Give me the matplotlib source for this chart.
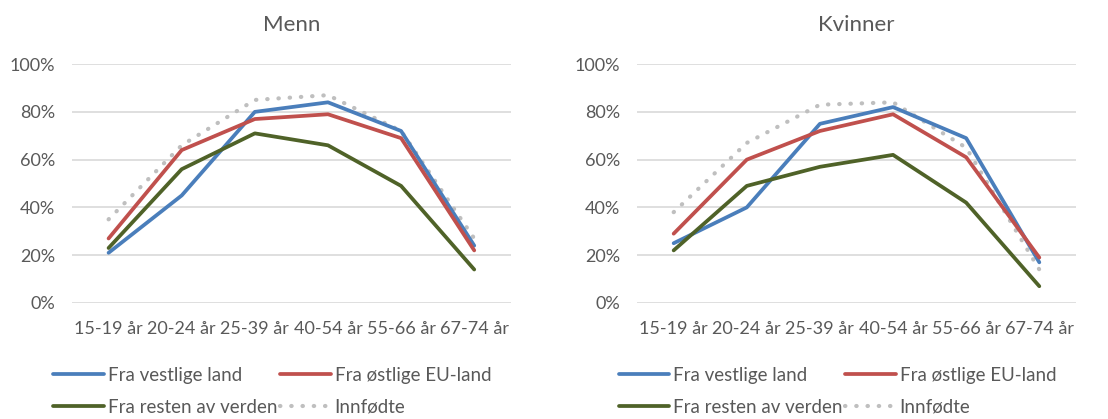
import matplotlib
matplotlib.use("Agg")
import matplotlib.pyplot as plt
from matplotlib.ticker import PercentFormatter

plt.rcParams['font.family'] = ['Lato', 'DejaVu Sans']

## categories and values (share of each group in work)
ages = ["15-19 år", "20-24 år", "25-39 år", "40-54 år", "55-66 år", "67-74 år"]

menn_vest = [21, 45, 80, 84, 72, 24]
menn_ost = [27, 64, 77, 79, 69, 22]
menn_rest = [23, 56, 71, 66, 49, 14]
menn_innf = [35, 66, 85, 87, 72, 27]

kv_vest = [25, 40, 75, 82, 69, 17]
kv_ost = [29, 60, 72, 79, 61, 19]
kv_rest = [22, 49, 57, 62, 42, 7]
kv_innf = [38, 67, 83, 84, 65, 14]

names = ["Fra vestlige land", "Fra østlige EU-land", "Fra resten av verden", "Innfødte"]
colors = ["#4a7ebb", "#c0504d", "#4f6228", "#bfbfbf"]
text_col = "#595959"

fig = plt.figure(figsize=(11.08, 4.19), dpi=100)
ax1 = fig.add_axes([0.065, 0.277, 0.396, 0.570])
ax2 = fig.add_axes([0.575, 0.277, 0.396, 0.570])

def draw_panel(ax, title, series):
    x = range(len(ages))
    lines = []
    for i, vals in enumerate(series):
        v = [a / 100 for a in vals]
        if i == 3:
            l, = ax.plot(x, v, color=colors[i], lw=3, linestyle=(0, (0.1, 2.6)),
                         dash_capstyle='round', label=names[i], zorder=1)
        else:
            l, = ax.plot(x, v, color=colors[i], lw=2.7, label=names[i],
                         solid_capstyle='round', zorder=2 + i)
        lines.append(l)
    ax.set_xlim(-0.5, 5.5)
    ax.set_ylim(0, 1)
    ax.set_yticks([0, 0.2, 0.4, 0.6, 0.8, 1.0])
    ax.yaxis.set_major_formatter(PercentFormatter(1.0, decimals=0))
    ax.set_xticks(list(x))
    ax.set_xticklabels(ages)
    ax.grid(axis='y', color='#d9d9d9', lw=1.2)
    ax.set_axisbelow(True)
    for s in ax.spines.values():
        s.set_visible(False)
    ax.tick_params(length=0, labelsize=13, labelcolor=text_col)
    ax.tick_params(axis='x', pad=13)
    ax.tick_params(axis='y', pad=12)
    ax.set_title(title, fontsize=16, color=text_col, pad=24)
    return lines

l1 = draw_panel(ax1, "Menn", [menn_vest, menn_ost, menn_rest, menn_innf])
l2 = draw_panel(ax2, "Kvinner", [kv_vest, kv_ost, kv_rest, kv_innf])

for lines, x0 in [(l1, 0.033), (l2, 0.543)]:
    order = [lines[0], lines[2], lines[1], lines[3]]
    leg = fig.legend(order, [h.get_label() for h in order], ncol=2,
                     loc='upper left', bbox_to_anchor=(x0, 0.165),
                     frameon=False, fontsize=13.5, handlelength=2.7,
                     handletextpad=0.2, columnspacing=0.15, labelspacing=0.8)
    for t in leg.get_texts():
        t.set_color(text_col)

fig.savefig("out.png", dpi=100)
